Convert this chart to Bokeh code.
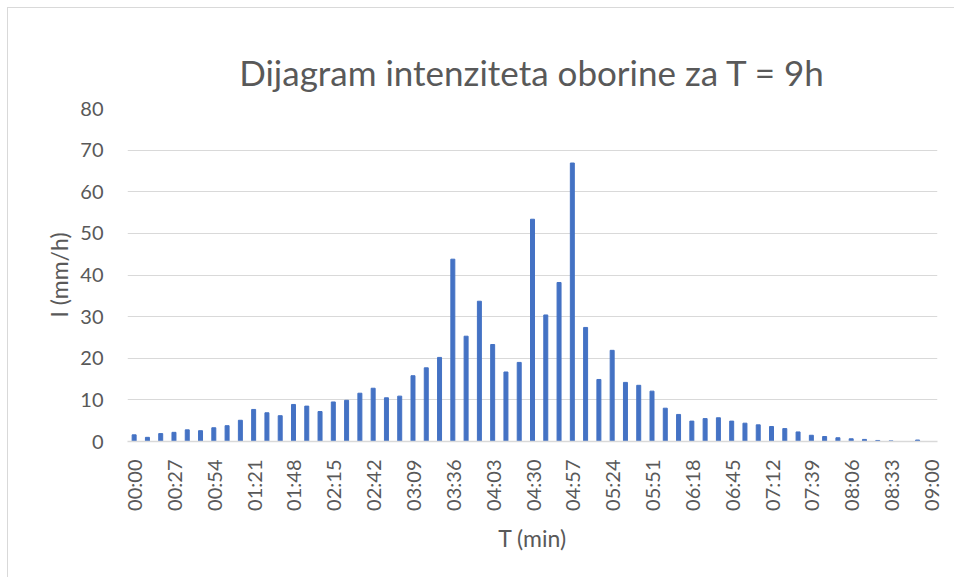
from bokeh.plotting import figure
from bokeh.models import FixedTicker, ColumnDataSource, Range1d
from bokeh.embed import file_html
from bokeh.resources import INLINE
import math

times = ["00:00","00:09","00:18","00:27","00:36","00:45","00:54","01:03","01:12","01:21",
         "01:30","01:39","01:48","01:57","02:06","02:15","02:24","02:33","02:42","02:51",
         "03:00","03:09","03:18","03:27","03:36","03:45","03:54","04:03","04:12","04:21",
         "04:30","04:39","04:48","04:57","05:06","05:15","05:24","05:33","05:42","05:51",
         "06:00","06:09","06:18","06:27","06:36","06:45","06:54","07:03","07:12","07:21",
         "07:30","07:39","07:48","07:57","08:06","08:15","08:24","08:33","08:42","08:51",
         "09:00"]
intensity = [1.6, 1.0, 1.9, 2.2, 2.8, 2.6, 3.3, 3.8, 5.1, 7.7,
             6.9, 6.2, 8.9, 8.5, 7.2, 9.5, 9.9, 11.6, 12.8, 10.5,
             10.9, 15.8, 17.7, 20.2, 43.8, 25.3, 33.7, 23.3, 16.7, 19.0,
             53.4, 30.4, 38.2, 66.9, 27.4, 14.9, 21.9, 14.2, 13.5, 12.1,
             8.0, 6.5, 4.9, 5.5, 5.7, 4.9, 4.4, 4.0, 3.6, 3.1,
             2.3, 1.5, 1.2, 0.9, 0.65, 0.5, 0.25, 0.15, 0.0, 0.35,
             0.0]
tick_labels = ["00:00","00:27","00:54","01:21","01:48","02:15","02:42","03:09","03:36","04:03",
               "04:30","04:57","05:24","05:51","06:18","06:45","07:12","07:39","08:06","08:33","09:00"]
y_ticks = [0, 10, 20, 30, 40, 50, 60, 70, 80]

idx = list(range(len(times)))
tick_pos = [times.index(t) for t in tick_labels]

src = ColumnDataSource(dict(x=idx, top=intensity, t=times))

FONT = "Lato"
GREY = "#595959"

p = figure(width=947, height=570, output_backend="svg", toolbar_location=None,
           x_range=Range1d(-0.5, len(times) - 0.5), y_range=Range1d(0, 80),
           min_border_left=119, min_border_right=18, min_border_top=100, min_border_bottom=137,
           title="Dijagram intenziteta oborine za T = 9h",
           styles={"margin-left": "7px", "margin-top": "7px",
                   "border-top": "1px solid #d9d9d9", "border-left": "1px solid #d9d9d9"})

p.vbar(x="x", top="top", width=0.3, bottom=0, source=src, color="#4472C4")

p.title.align = "center"
p.title.text_font = FONT
p.title.text_font_size = "35px"
p.title.text_font_style = "normal"
p.title.text_color = GREY
p.title.standoff = 32

p.outline_line_color = None
p.background_fill_color = "white"
p.border_fill_color = "white"

p.xgrid.grid_line_color = None
p.ygrid.grid_line_color = "#d9d9d9"
p.ygrid.grid_line_width = 1
p.yaxis.ticker = FixedTicker(ticks=y_ticks)
p.xaxis.ticker = FixedTicker(ticks=tick_pos)
p.xaxis.major_label_overrides = {pos: lab for pos, lab in zip(tick_pos, tick_labels)}
p.xaxis.major_label_orientation = math.pi / 2

for ax in (p.xaxis, p.yaxis):
    ax.major_tick_line_color = None
    ax.minor_tick_line_color = None
    ax.major_label_text_font = FONT
    ax.major_label_text_font_size = "20px"
    ax.major_label_text_color = GREY
    ax.axis_label_text_font = FONT
    ax.axis_label_text_font_size = "23px"
    ax.axis_label_text_font_style = "normal"
    ax.axis_label_text_color = GREY

p.yaxis.axis_line_color = None
p.yaxis.major_label_standoff = 18
p.yaxis.axis_label = "I (mm/h)"
p.yaxis.axis_label_standoff = 4
p.xaxis.axis_line_color = "#d9d9d9"
p.xaxis.axis_line_width = 1.5
p.xaxis.major_label_standoff = 12
p.xaxis.axis_label = "T (min)"
p.xaxis.axis_label_standoff = 10

open("out.html", "w").write(file_html(p, INLINE))
